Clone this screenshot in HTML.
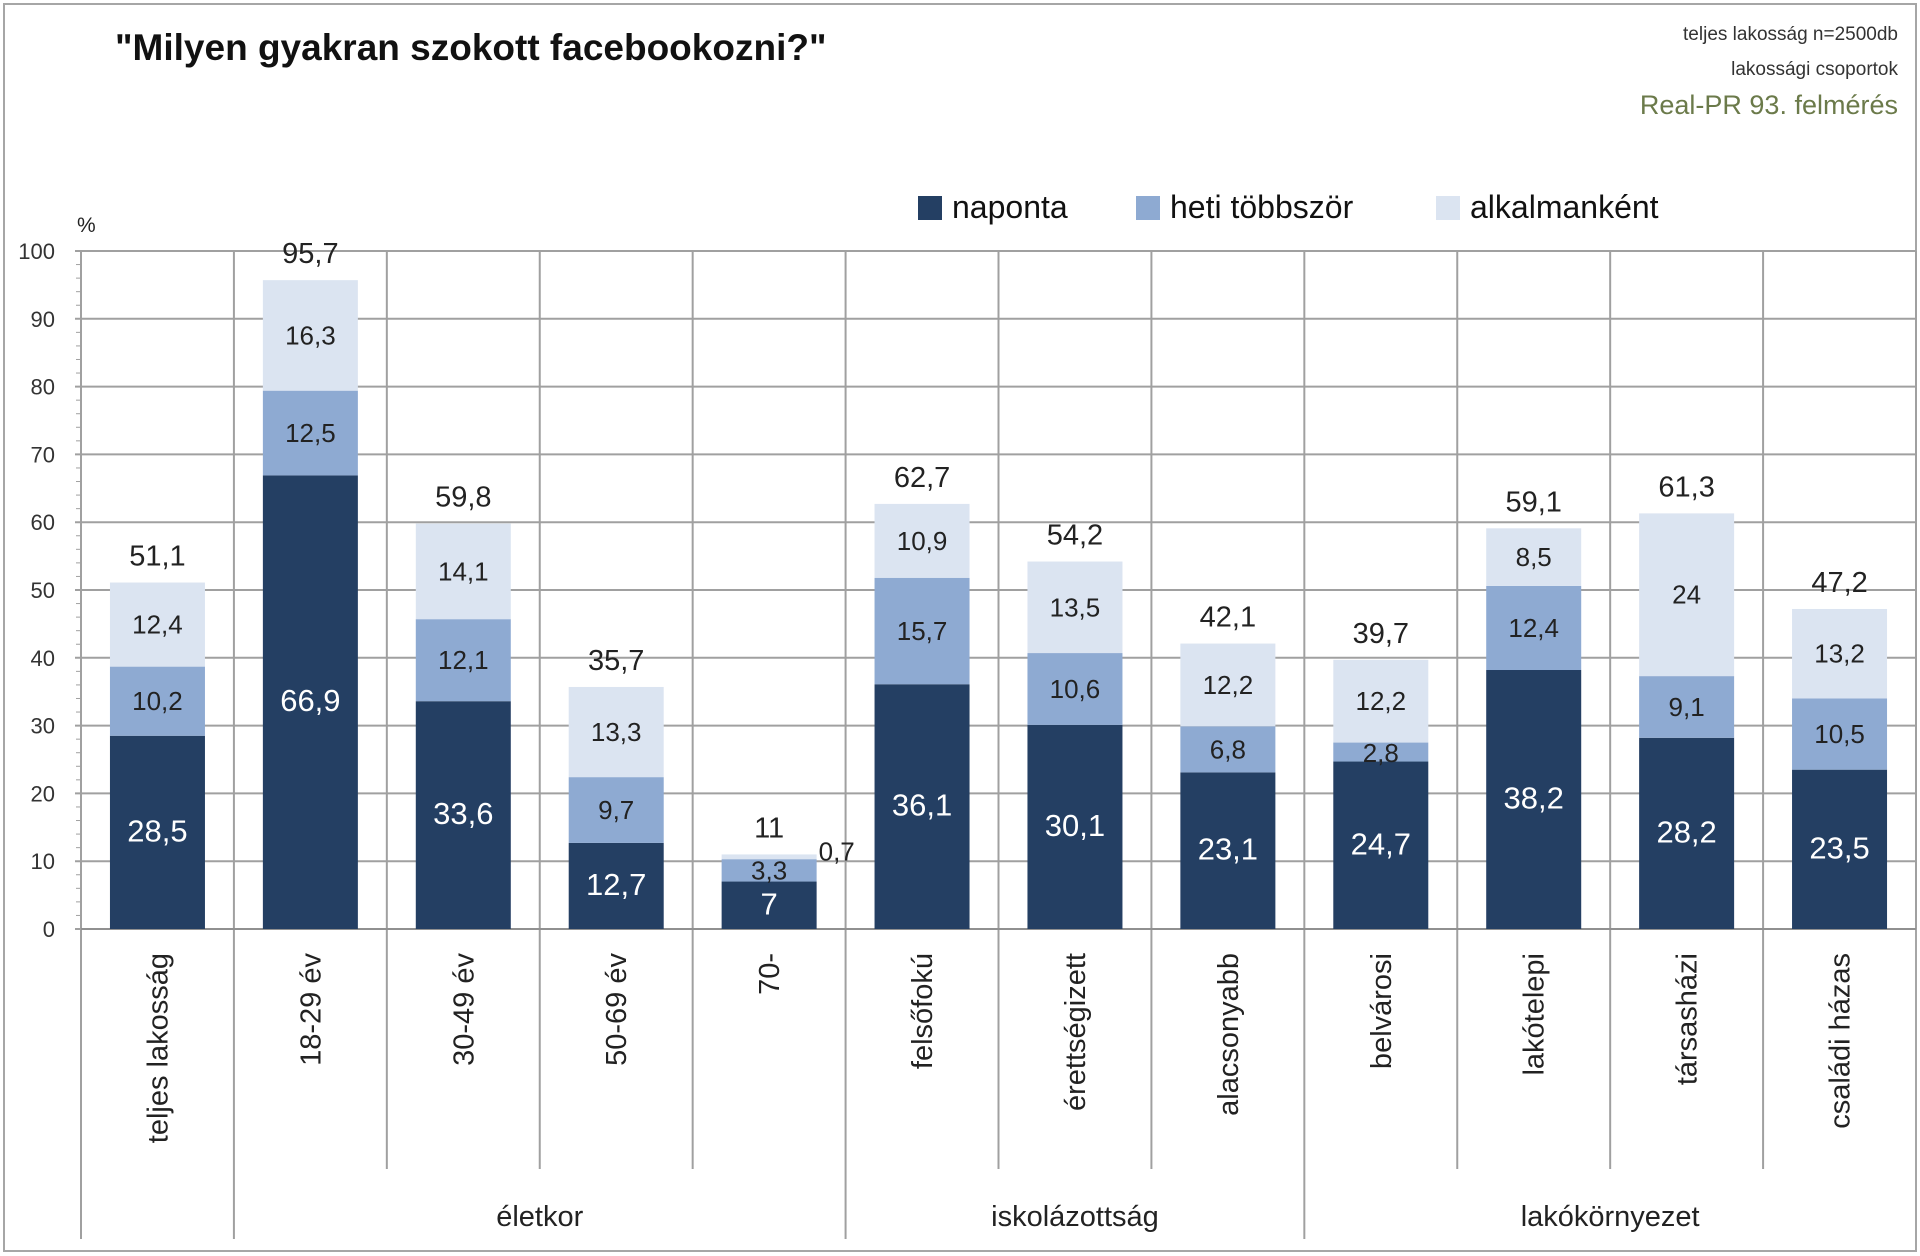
<!DOCTYPE html>
<html><head><meta charset="utf-8"><style>
html,body{margin:0;padding:0;background:#fff;}
svg{display:block;font-family:"Liberation Sans","DejaVu Sans",sans-serif;}
</style></head><body>
<svg id="chart" width="1920" height="1256" viewBox="0 0 1920 1256">
<rect x="4" y="4" width="1912" height="1247" fill="#fff" stroke="#a6a6a6" stroke-width="2"/>
<text x="115" y="60" font-size="37" font-weight="bold" fill="#111">"Milyen gyakran szokott facebookozni?"</text>
<text x="1898" y="40" font-size="19" fill="#333" text-anchor="end">teljes lakosság n=2500db</text>
<text x="1898" y="75" font-size="19" fill="#333" text-anchor="end">lakossági csoportok</text>
<text x="1898" y="114" font-size="27" fill="#6b7a4a" text-anchor="end">Real-PR 93. felmérés</text>
<g>
<rect x="918" y="196" width="24" height="24" fill="#243f63"/>
<text x="952" y="218" font-size="32" fill="#111">naponta</text>
<rect x="1136" y="196" width="24" height="24" fill="#8eaad2"/>
<text x="1170" y="218" font-size="32" fill="#111">heti többször</text>
<rect x="1436" y="196" width="24" height="24" fill="#dbe4f1"/>
<text x="1470" y="218" font-size="32" fill="#111">alkalmanként</text>
</g>
<text x="77" y="232" font-size="21" fill="#222">%</text>
<g id="plot"></g>
</svg>
<script>
const categories=["teljes lakosság","18-29 év","30-49 év","50-69 év","70-","felsőfokú","érettségizett","alacsonyabb","belvárosi","lakótelepi","társasházi","családi házas"];
const naponta=[28.5,66.9,33.6,12.7,7,36.1,30.1,23.1,24.7,38.2,28.2,23.5];
const heti=[10.2,12.5,12.1,9.7,3.3,15.7,10.6,6.8,2.8,12.4,9.1,10.5];
const alkalmankent=[12.4,16.3,14.1,13.3,0.7,10.9,13.5,12.2,12.2,8.5,24,13.2];
const totals=[51.1,95.7,59.8,35.7,11,62.7,54.2,42.1,39.7,59.1,61.3,47.2];
const yTicks=[0,10,20,30,40,50,60,70,80,90,100];
const groups=[{name:"életkor",from:1,to:4},{name:"iskolázottság",from:5,to:7},{name:"lakókörnyezet",from:8,to:11}];

const NS="http://www.w3.org/2000/svg";
const g=document.getElementById('plot');
const X0=81,X1=1916,Y0=929,Y100=251;
const cw=(X1-X0)/categories.length, bw=95;
const y=v=>Y0-(v/100)*(Y0-Y100);
const xc=i=>X0+cw*(i+0.5);
const fmt=v=>String(v).replace('.',',');
function el(tag,attrs,txt){const e=document.createElementNS(NS,tag);for(const k in attrs)e.setAttribute(k,attrs[k]);if(txt!==undefined)e.textContent=txt;g.appendChild(e);return e;}

yTicks.forEach(t=>{
  const l=el('line',{x1:X0-6,x2:X1,y1:y(t),y2:y(t),stroke:'#a0a0a0','stroke-width':2});
  
  
  const tx=el('text',{x:55,y:y(t)+8,'font-size':22,'text-anchor':'end',fill:'#333'},t);
  
  
});
for(let v=0;v<=100;v+=2){
  const m=el('line',{x1:X0-5,x2:X0,y1:y(v),y2:y(v),stroke:'#a0a0a0','stroke-width':1});
  
  
}
for(let i=0;i<=categories.length;i++){
  const x=X0+cw*i;
  const isGroup=(i===0||i===1||i===5||i===8||i===categories.length);
  const bottom=i===categories.length?Y0:(isGroup?1239:1169);
  const l=el('line',{x1:x,x2:x,y1:Y100,y2:bottom,stroke:'#a0a0a0','stroke-width':2});
  
  
}
const ax=el('line',{x1:X0,x2:X1,y1:Y0,y2:Y0,stroke:'#909090','stroke-width':2});



categories.forEach((c,i)=>{
  const cx=xc(i), x=cx-bw/2;
  const segs=[[naponta[i],'#243f63','#fff','naponta'],[heti[i],'#8eaad2','#222','heti'],[alkalmankent[i],'#dbe4f1','#222','alkalmankent']];
  let base=0;
  segs.forEach(([v,fill,tc,key])=>{
    const r=el('rect',{x:x,y:y(base+v),width:bw,height:y(base)-y(base+v),fill:fill});
    
    
    const h=y(base)-y(base+v);
    let lx=cx,ly=(y(base)+y(base+v))/2+9,fs=key==='naponta'?31:26,anchor='middle',col=tc;
    if(h<22){ if(key==='alkalmankent'){lx=x+bw+2;ly=y(base+v)+6;anchor='start';} else {ly=(y(base)+y(base+v))/2+10;} }
    const t=el('text',{x:lx,y:ly,'font-size':fs,'text-anchor':anchor,fill:col},fmt(v));
    
    
    base+=v;
  });
  const tt=el('text',{x:cx,y:y(totals[i])-17,'font-size':29,'text-anchor':'middle',fill:'#222'},fmt(totals[i]));
  
  
  const cl=el('text',{x:0,y:0,'font-size':29,'text-anchor':'end',fill:'#222',transform:`translate(${cx+10},953) rotate(-90)`},c);
  
  
});
groups.forEach(gr=>{
  const cx=(X0+cw*gr.from+X0+cw*(gr.to+1))/2;
  const t=el('text',{x:cx,y:1226,'font-size':29,'text-anchor':'middle',fill:'#222'},gr.name);
  
  
});
</script>
</body></html>
